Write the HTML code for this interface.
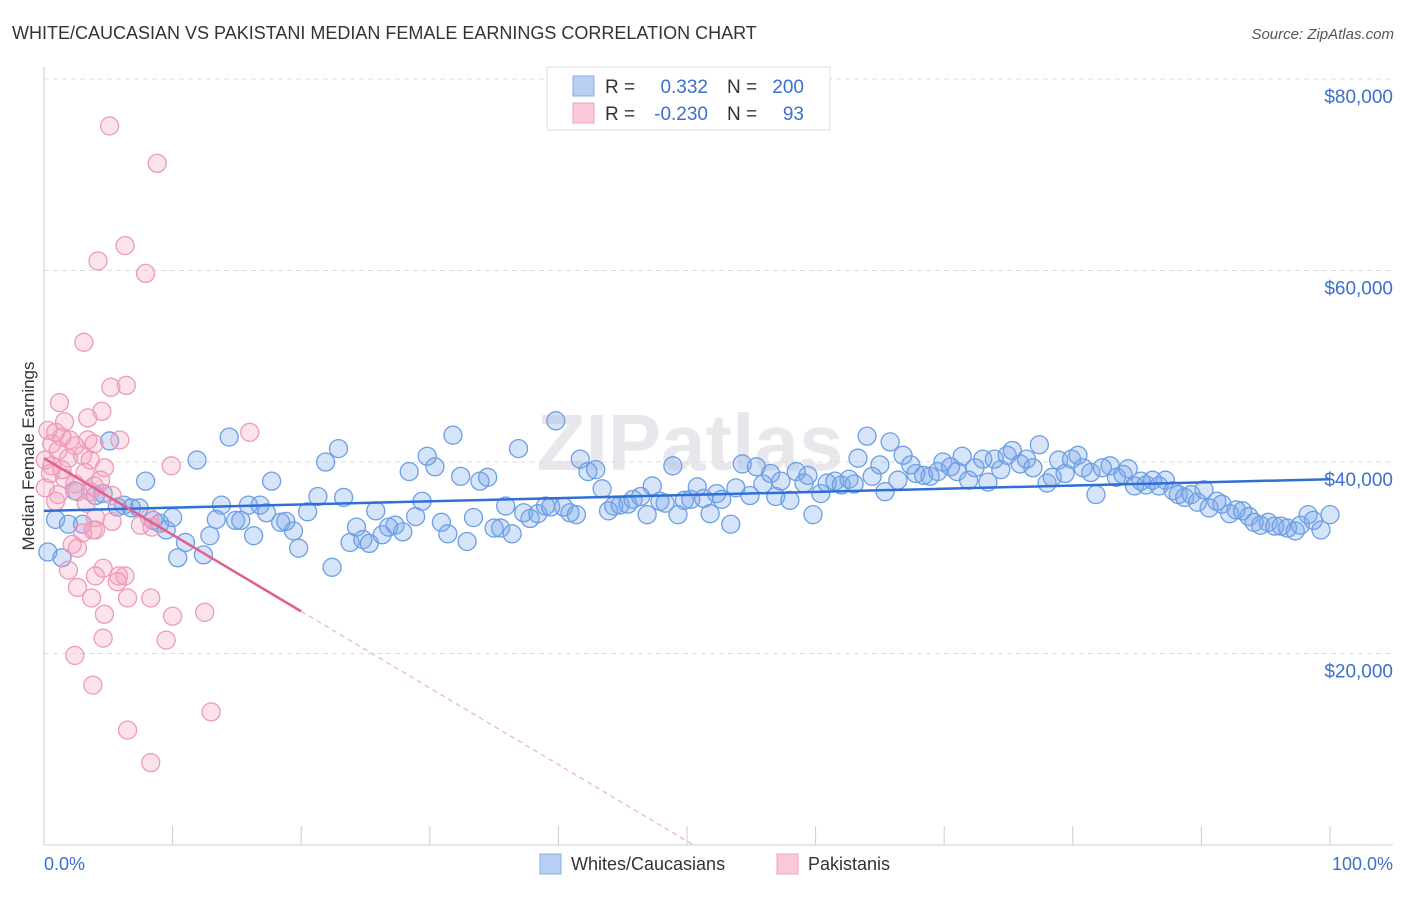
<!DOCTYPE html>
<html><head><meta charset="utf-8"><style>
body{margin:0;background:#fff;font-family:"Liberation Sans",sans-serif;}
svg text{font-family:"Liberation Sans",sans-serif;}
</style></head><body>
<svg id="chart" width="1406" height="892" xmlns="http://www.w3.org/2000/svg">
<text x="12" y="39" font-size="18" fill="#333">WHITE/CAUCASIAN VS PAKISTANI MEDIAN FEMALE EARNINGS CORRELATION CHART</text>
<text x="1394" y="39" font-size="15" fill="#555" text-anchor="end" font-style="italic">Source: ZipAtlas.com</text>
<text x="690" y="470" font-size="80" fill="#e8e8ec" text-anchor="middle" font-family="Liberation Serif" font-weight="bold">ZIPatlas</text>
<g id="grid"></g>
<g id="axes"></g>
<g id="blue"></g>
<g id="pink"></g>
<g id="trends"></g>
<text transform="translate(34,456) rotate(-90)" font-size="17" fill="#333" text-anchor="middle">Median Female Earnings</text>
<text x="44" y="870" font-size="18" fill="#3b6fd0">0.0%</text>
<text x="1393" y="870" font-size="18" fill="#3b6fd0" text-anchor="end">100.0%</text>
<g>
<rect x="547" y="67" width="283" height="63" fill="#fff" stroke="#ddd"/>
<rect x="573" y="76" width="21" height="20" fill="#b7d0f3" stroke="#86aee6"/>
<rect x="573" y="103" width="21" height="20" fill="#fbc8d8" stroke="#eea5bd"/>
<text x="605" y="93" font-size="19" fill="#333">R =</text>
<text x="708" y="93" font-size="19" fill="#3b6fd0" text-anchor="end">0.332</text>
<text x="727" y="93" font-size="19" fill="#333">N =</text>
<text x="804" y="93" font-size="19" fill="#3b6fd0" text-anchor="end">200</text>
<text x="605" y="120" font-size="19" fill="#333">R =</text>
<text x="708" y="120" font-size="19" fill="#3b6fd0" text-anchor="end">-0.230</text>
<text x="727" y="120" font-size="19" fill="#333">N =</text>
<text x="804" y="120" font-size="19" fill="#3b6fd0" text-anchor="end">93</text>
</g>
<g>
<rect x="540" y="854" width="21" height="20" fill="#b7d0f3" stroke="#86aee6"/>
<text x="571" y="870" font-size="18" fill="#333">Whites/Caucasians</text>
<rect x="777" y="854" width="21" height="20" fill="#fbc8d8" stroke="#eea5bd"/>
<text x="808" y="870" font-size="18" fill="#333">Pakistanis</text>
</g>
</svg>
<script>
const yTicks=[20000,40000,60000,80000];
const yTickLabels=["$20,000","$40,000","$60,000","$80,000"];
const xTicks=[0,10,20,30,40,50,60,70,80,90,100];
const blueX=[0.3,0.9,1.4,1.9,2.4,3.0,4.0,4.6,5.1,5.7,6.2,6.8,7.4,7.9,8.5,9.0,9.5,10.0,10.4,11.0,11.9,12.4,12.9,13.4,13.8,14.4,14.9,15.3,15.9,16.3,16.8,17.3,17.7,18.4,18.8,19.4,19.8,20.5,21.3,21.9,22.4,22.9,23.3,23.8,24.3,24.8,25.3,25.8,26.3,26.8,27.3,27.9,28.4,28.9,29.4,29.8,30.4,30.9,31.4,31.8,32.4,32.9,33.4,33.9,34.5,35.0,35.5,35.9,36.4,36.9,37.3,37.8,38.4,39.0,39.4,39.8,40.4,40.9,41.4,41.7,42.3,42.9,43.4,43.9,44.3,44.8,45.4,45.8,46.4,46.9,47.3,47.9,48.3,48.9,49.3,49.8,50.3,50.8,51.3,51.8,52.3,52.7,53.4,53.8,54.3,54.9,55.4,55.9,56.5,56.9,57.3,58.0,58.5,59.1,59.4,59.8,60.4,60.9,61.5,62.0,62.6,63.0,63.3,64.0,64.4,65.0,65.4,65.8,66.4,66.8,67.4,67.8,68.4,68.9,69.5,69.9,70.5,71.0,71.4,71.9,72.4,73.0,73.4,73.9,74.4,74.9,75.3,75.9,76.4,76.9,77.4,78.0,78.4,78.9,79.4,79.9,80.4,80.8,81.4,81.8,82.3,82.9,83.4,83.9,84.3,84.8,85.3,85.7,86.2,86.7,87.2,87.8,88.2,88.7,89.2,89.7,90.2,90.6,91.2,91.6,92.2,92.7,93.2,93.7,94.1,94.6,95.2,95.7,96.2,96.7,97.3,97.7,98.3,98.7,99.3,100];
const blueY=[30.6,34.0,30.0,33.5,37.0,33.5,36.5,36.7,42.2,35.3,35.5,35.2,35.2,38.0,33.9,33.6,32.9,34.2,30.0,31.6,40.2,30.3,32.3,34.0,35.5,42.6,33.9,33.9,35.5,32.3,35.5,34.7,38.0,33.7,33.8,32.8,31.0,34.8,36.4,40.0,29.0,41.4,36.3,31.6,33.2,31.9,31.5,34.9,32.4,33.2,33.4,32.7,39.0,34.3,35.9,40.6,39.5,33.7,32.5,42.8,38.5,31.7,34.2,38.0,38.4,33.1,33.1,35.4,32.5,41.4,34.7,34.1,34.6,35.4,35.3,44.3,35.3,34.7,34.5,40.3,39.0,39.2,37.2,34.9,35.4,35.5,35.6,36.1,36.4,34.5,37.5,35.9,35.7,39.6,34.5,36.0,36.1,37.4,36.2,34.6,36.7,36.1,33.5,37.3,39.8,36.5,39.5,37.7,38.8,36.4,38.0,36.0,39.0,37.8,38.6,34.5,36.7,37.8,38.0,37.6,38.2,37.7,40.4,42.7,38.5,39.7,36.9,42.1,38.1,40.7,39.7,38.8,38.6,38.5,39.0,40.0,39.5,39.0,40.6,38.1,39.4,40.3,37.9,40.3,39.2,40.7,41.2,39.8,40.3,39.4,41.8,37.8,38.4,40.2,38.8,40.3,40.7,39.4,38.9,36.6,39.4,39.6,38.4,38.7,39.3,37.5,38.0,37.6,38.1,37.5,38.1,37.0,36.6,36.3,36.6,35.8,37.1,35.2,35.9,35.6,34.6,35.0,34.9,34.3,33.7,33.4,33.7,33.3,33.3,33.1,32.8,33.4,34.5,33.9,32.9,34.5];
const pinkX=[5.1,8.8,6.3,4.2,7.9,3.1,6.4,5.2,1.2,4.5,1.6,16.0,0.3,0.9,1.4,2.0,3.4,5.9,0.6,2.4,3.9,1.1,3.0,0.1,1.9,0.6,9.9,4.7,3.2,0.5,1.6,2.4,0.1,3.9,1.1,2.6,3.6,5.3,0.9,3.3,4.0,5.3,8.2,7.5,8.4,4.0,3.0,3.8,2.2,2.6,1.9,4.6,4.0,5.8,6.3,5.7,2.6,3.7,6.5,8.3,4.7,10.0,12.5,4.6,9.5,2.4,3.8,13.0,6.5,8.3,3.6,4.4,1.4,3.4];
const pinkY=[75.1,71.2,62.6,61.0,59.7,52.5,48.0,47.8,46.2,45.3,44.2,43.1,43.3,43.1,42.6,42.3,42.3,42.3,41.9,41.7,41.9,41.2,40.7,40.2,40.4,39.6,39.6,39.4,38.9,38.8,38.3,37.7,37.3,37.5,36.6,36.9,36.9,36.5,35.9,35.7,34.2,33.8,34.2,33.4,33.2,32.9,32.6,32.9,31.4,31.0,28.7,28.9,28.1,28.1,28.1,27.5,26.9,25.8,25.8,25.8,24.1,23.9,24.3,21.6,21.4,19.8,16.7,13.9,12.0,8.6,40.2,38.1,39.2,44.6];
const blueTrend=[34.9,38.2];      // value (k$) at 0% and 100%
const pinkTrend=[40.4,24.4];      // value (k$) at 0% and 20%
const NS="http://www.w3.org/2000/svg";
const X0=44,X1=1330,Y0=845,Ypk=191.5/20000;
const sx=p=>X0+(X1-X0)*p/100;
const sy=v=>Y0-v*Ypk;
function mk(tag,attrs,parent){const e=document.createElementNS(NS,tag);for(const k in attrs)e.setAttribute(k,attrs[k]);parent.appendChild(e);return e;}
const grid=document.getElementById('grid'),axes=document.getElementById('axes');
yTicks.forEach((t,i)=>{
  const l=mk('line',{x1:44,x2:1393,y1:sy(t),y2:sy(t),stroke:'#ddd','stroke-dasharray':'5,4'},grid);
  
  
  const tx=mk('text',{x:1393,y:sy(t)+24,'font-size':19,fill:'#3b6fd0','text-anchor':'end'},axes);
  tx.textContent=yTickLabels[i];
  
  
});
const topg=mk('line',{x1:44,x2:1393,y1:79,y2:79,stroke:'#ddd','stroke-dasharray':'5,4'},grid);


const ya=mk('line',{x1:44,x2:44,y1:67,y2:845,stroke:'#ccc'},axes);


const xa=mk('line',{x1:44,x2:1393,y1:845,y2:845,stroke:'#ccc'},axes);


xTicks.forEach(t=>{
  const l=mk('line',{x1:sx(t),x2:sx(t),y1:826,y2:845,stroke:'#ccc'},axes);
  
  
});
const bg=document.getElementById('blue');
blueX.forEach((x,i)=>{
  const c=mk('circle',{cx:sx(x),cy:sy(blueY[i]*1000),r:9,fill:'rgba(120,165,235,0.3)',stroke:'#6d9ee4','stroke-width':1.3},bg);
  
  
});
const pg=document.getElementById('pink');
pinkX.forEach((x,i)=>{
  const c=mk('circle',{cx:sx(x),cy:sy(pinkY[i]*1000),r:9,fill:'rgba(245,160,190,0.3)',stroke:'#ec9bb8','stroke-width':1.3},pg);
  
  
});
const tg=document.getElementById('trends');
const bl=mk('line',{x1:sx(0),y1:sy(blueTrend[0]*1000),x2:sx(100),y2:sy(blueTrend[1]*1000),stroke:'#2f6fd6','stroke-width':2.5},tg);


const slope=(pinkTrend[1]-pinkTrend[0])/20;
const pl=mk('line',{x1:sx(0),y1:sy(pinkTrend[0]*1000),x2:sx(20),y2:sy(pinkTrend[1]*1000),stroke:'#e0608f','stroke-width':2.5},tg);


const xEnd=-pinkTrend[0]/slope;
const pd=mk('line',{x1:sx(20),y1:sy(pinkTrend[1]*1000),x2:sx(xEnd),y2:sy(0),stroke:'#eeb0c6','stroke-width':1.2,'stroke-dasharray':'5,4'},tg);


</script>
</body></html>
